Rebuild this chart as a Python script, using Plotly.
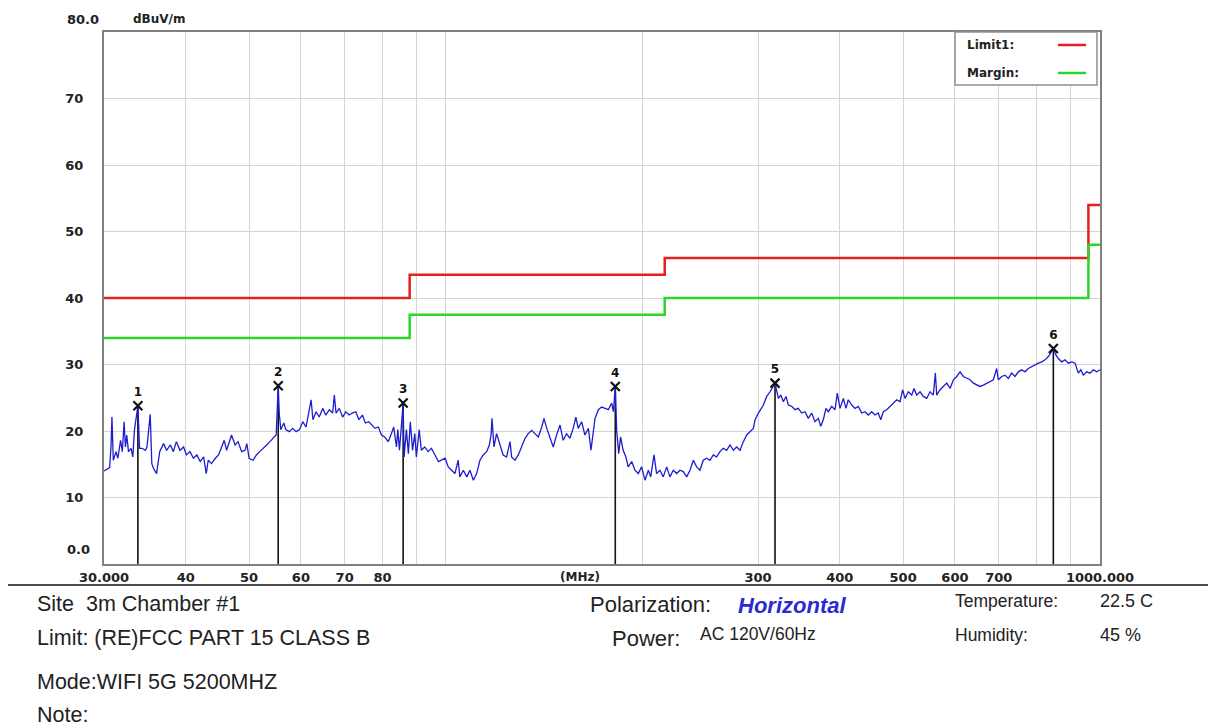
import plotly.graph_objects as go

# ---------------- data ----------------
freq_mhz = [
    30.0, 30.1, 30.6, 30.75, 30.85, 31.0, 31.3, 31.5, 31.8, 32.0, 32.2, 32.35, 32.5, 32.7, 33.0, 33.2, 33.4,
    33.8, 33.9, 34.0, 34.3, 34.7, 34.9, 35.3, 35.5, 35.7, 36.1, 36.5, 37.0, 37.4, 37.9, 38.3, 38.7, 39.2, 39.7,
    40.1, 40.6, 41.1, 41.6, 42.1, 42.6, 43.0, 43.3, 43.8, 44.4, 44.9, 45.4, 45.8, 46.2, 46.7, 47.0, 47.6, 48.1,
    48.7, 49.3, 49.6,
    50.0, 50.7, 51.3, 51.9, 52.6, 53.2, 53.8, 54.5, 55.0, 55.4, 55.6, 55.9, 56.5, 56.9, 57.6, 58.3, 59.0, 59.7,
    60.4, 61.1, 61.6, 62.2, 62.6, 63.3, 64.0, 64.8, 65.5, 66.3, 67.1, 67.5, 67.9, 68.7, 69.5,
    70.3, 71.1, 71.9, 72.8, 73.6, 74.5, 75.3, 76.2, 77.1, 77.9, 78.8, 79.7,
    80.6, 81.6, 82.5, 83.2, 84.0, 84.4, 84.9, 85.5, 86.0, 86.3, 87.0, 87.6, 88.2, 88.9, 89.6,
    90.1, 91.0, 91.7, 92.8, 93.9, 95.0, 96.2, 97.4, 99.7,
    100.8, 102.0, 103.2, 104.4, 105.0, 106.3, 107.6, 108.8, 110.1, 111.4, 112.7, 114.0, 115.4, 116.5, 117.2,
    117.6, 118.4, 119.5,
    120.9, 122.3, 123.8, 125.3, 126.0, 127.5, 129.0, 130.5, 132.1, 133.6, 135.2, 136.8, 138.4,
    140.1, 141.2, 142.6, 144.2, 145.9, 147.6, 149.4, 151.1, 152.9, 154.7, 156.5, 158.0, 159.3,
    161.2, 163.1, 165.1, 166.6, 168.0, 169.0, 171.0, 173.0, 175.1, 177.1, 179.2, 180.3, 181.5, 182.4, 183.7,
    184.9, 186.6, 188.4, 189.9,
    192.3, 194.5, 196.8, 199.1, 201.5, 203.9, 205.6, 208.0, 209.9, 212.4, 214.9, 217.5, 220.0, 222.6, 225.3,
    227.9, 230.6, 233.4, 236.1, 238.9,
    241.7, 244.5, 247.4, 250.4, 253.3, 256.3, 259.3, 262.4, 265.5, 268.6, 271.8, 275.0, 278.3, 281.6, 284.9,
    288.3, 291.7, 295.1, 296.9, 300.4,
    305.7, 309.3, 313.0, 315.9, 318.5, 322.3, 325.0, 328.0, 331.1, 333.8, 337.8, 341.7, 345.7, 349.9, 353.9,
    358.1, 362.4, 366.6, 371.0, 374.1, 377.5,
    381.1, 384.2, 388.8, 393.4, 396.6, 400.4, 405.1, 408.9, 412.2, 417.2, 422.1, 427.0, 432.2, 437.2, 442.3,
    447.6, 452.9, 458.1, 462.1, 466.3,
    471.9, 477.4, 483.1, 488.8, 494.6, 499.2, 503.3, 509.2, 515.4, 519.5, 524.5, 530.7, 536.9, 543.3, 549.7,
    556.1, 560.1, 562.8, 569.4, 576.1,
    583.0, 589.8, 596.8, 603.9, 611.0, 618.0, 625.6, 632.9, 640.3, 648.0, 655.5, 663.2, 671.2, 679.0, 687.0,
    695.0, 699.1,
    707.5, 715.7, 724.2, 732.8, 741.3, 750.1, 759.1, 767.9, 777.0, 786.4, 795.5, 804.9, 814.6, 824.0, 833.7,
    840.7, 848.5, 856.5, 863.5, 873.9,
    884.2, 894.5, 905.3, 915.9, 926.6, 934.5, 943.1, 954.2, 965.4, 976.8, 988.3, 1000.0,
]
level_dbuv = [
    14.0, 14.1, 14.5, 17.6, 22.1, 15.6, 16.9, 15.9, 18.6, 16.9, 21.4, 17.6, 19.4, 16.9, 17.4, 16.1, 20.2,
    23.8, 20.2, 17.4, 17.4, 17.1, 17.6, 22.5, 15.1, 14.4, 13.6, 16.9, 18.1, 17.1, 17.9, 16.9, 18.4, 17.1, 17.6,
    16.4, 16.9, 15.9, 16.4, 15.4, 16.1, 13.6, 15.6, 15.1, 15.9, 16.4, 17.6, 18.6, 17.1, 18.6, 19.4, 17.9, 18.4,
    16.9, 17.1, 18.1,
    15.9, 15.6, 16.4, 16.9, 17.4, 17.9, 18.4, 18.9, 19.4, 26.8, 22.7, 20.2, 21.2, 20.2, 19.9, 20.4, 19.9, 20.2,
    21.4, 20.6, 22.7, 24.7, 21.7, 22.9, 22.1, 23.4, 22.4, 23.2, 22.7, 25.4, 22.7, 23.4, 22.1,
    22.9, 22.4, 22.7, 22.9, 21.7, 22.4, 21.2, 21.4, 20.9, 20.4, 20.6, 19.4,
    19.1, 18.4, 19.6, 20.6, 17.6, 20.2, 17.1, 21.2, 24.2, 16.1, 20.2, 16.6, 21.4, 17.1, 19.6,
    16.1, 20.2, 17.1, 17.6, 16.9, 17.4, 16.4, 15.4, 15.9,
    14.6, 14.1, 13.6, 15.6, 13.1, 14.1, 13.1, 14.1, 12.6, 13.6, 15.6, 16.4, 16.9, 17.9, 19.4,
    21.9, 17.6, 19.6,
    17.9, 16.4, 16.1, 18.4, 16.1, 15.6, 16.4, 17.6, 18.9, 19.6, 20.1, 19.6, 19.1,
    20.6, 21.9, 20.4, 19.1, 17.6, 19.4, 20.9, 18.6, 19.6, 18.9, 20.4, 22.1, 20.4,
    21.4, 19.4, 20.4, 17.1, 19.9, 21.9, 23.2, 23.6, 23.4, 23.2, 24.2, 22.9, 26.7, 20.1, 16.6,
    19.1, 17.1, 16.1, 14.6,
    15.4, 14.1, 13.6, 14.6, 12.6, 14.1, 13.1, 16.4, 13.6, 14.1, 13.1, 14.6, 13.1, 14.1, 13.6,
    14.1, 13.9, 13.1, 14.1, 15.6,
    14.6, 14.1, 15.6, 15.9, 15.6, 16.4, 16.1, 16.9, 17.4, 17.1, 17.9, 17.1, 17.6, 17.1, 18.4,
    19.4, 19.9, 20.4, 21.7, 22.7,
    23.9, 25.2, 25.9, 26.7, 27.2, 24.9, 25.4, 24.4, 25.2, 23.9, 23.7, 23.2, 23.4, 22.7, 22.9,
    21.9, 22.7, 21.4, 21.9, 20.7, 21.7,
    23.4, 22.9, 23.7, 23.2, 25.7, 23.4, 24.9, 23.4, 24.7, 23.9, 23.4, 23.7, 22.7, 22.9, 22.4,
    22.9, 22.4, 22.7, 21.7, 22.9,
    23.2, 23.7, 24.2, 24.7, 24.4, 26.2, 24.9, 25.9, 25.4, 26.4, 25.4, 25.9, 25.2, 24.9, 25.9,
    25.4, 28.7, 25.4, 26.2, 26.7,
    27.2, 26.4, 27.7, 28.2, 28.9, 28.2, 27.9, 27.7, 27.2, 26.9, 26.7, 26.9, 27.2, 27.4, 27.7,
    29.4, 27.7,
    28.2, 28.4, 27.9, 28.7, 28.2, 28.9, 29.2, 28.9, 29.4, 29.7, 29.9, 30.2, 30.4, 30.7, 31.2,
    31.7, 32.4, 31.4, 30.9, 30.4,
    30.7, 30.2, 30.4, 30.2, 28.7, 29.2, 28.4, 28.9, 28.7, 29.2, 28.9, 29.2,
]

limit_freq = [30, 88, 88, 216, 216, 960, 960, 1000]
limit_level = [40, 40, 43.5, 43.5, 46, 46, 54, 54]
margin_level = [34, 34, 37.5, 37.5, 40, 40, 48, 48]

marker_freq = [33.8, 55.4, 86.0, 181.5, 318.5, 848.5]
marker_level = [23.8, 26.8, 24.2, 26.7, 27.2, 32.4]
marker_label = ["1", "2", "3", "4", "5", "6"]

x_grid_vals = [30, 40, 50, 60, 70, 80, 90, 100, 200, 300, 400, 500, 600, 700, 800, 900, 1000]
x_grid_text = ["30.000", "40", "50", "60", "70", "80", "", "", "", "300", "400", "500", "600", "700", "", "", "1000.000"]
y_tick_vals = [10, 20, 30, 40, 50, 60, 70]
y_tick_text = ["10", "20", "30", "40", "50", "60", "70"]

# ---------------- geometry (window pixels; page body has an 8px margin) ----------------
OFF = 8
W, H = 1216 - OFF, 728 - OFF
L, R, T, B = 104, 1100, 32, 564   # plot area in window pixels


def px(x):
    return (x - L) / (R - L)


def py(y):
    return (B - y) / (B - T)


RED = "#e4201e"
GREEN = "#2bd62b"
BLUE = "#1d1dd0"
FONT = "Liberation Sans"
AXFONT = "DejaVu Sans"

fig = go.Figure()

fig.add_trace(go.Scatter(x=limit_freq, y=limit_level, mode="lines",
                         line=dict(color=RED, width=2.5), hoverinfo="skip"))
fig.add_trace(go.Scatter(x=limit_freq, y=margin_level, mode="lines",
                         line=dict(color=GREEN, width=2.5), hoverinfo="skip"))

# marker drop lines
mx, my = [], []
for f, v in zip(marker_freq, marker_level):
    mx += [f, f, None]
    my += [0, v, None]
fig.add_trace(go.Scatter(x=mx, y=my, mode="lines", line=dict(color="#111111", width=1.6),
                         hoverinfo="skip"))

fig.add_trace(go.Scatter(x=freq_mhz, y=level_dbuv, mode="lines",
                         line=dict(color=BLUE, width=1.3)))

fig.add_trace(go.Scatter(x=marker_freq, y=marker_level, mode="markers+text",
                         text=["<b>%s</b>" % t for t in marker_label], textposition="top center",
                         textfont=dict(family=AXFONT, size=12, color="#111111"),
                         marker=dict(symbol="x-thin", size=9, line=dict(color="#111111", width=2.2))))

fig.update_xaxes(type="log", range=[1.4771213, 3.0],
                 tickvals=x_grid_vals, ticktext=["<b>%s</b>" % t if t else "" for t in x_grid_text],
                 tickfont=dict(family=AXFONT, size=13, color="#222222"),
                 showgrid=True, gridcolor="#d4d4d4", gridwidth=1,
                 showline=True, linecolor="#808080", linewidth=2, mirror=True,
                 ticks="", zeroline=False)
fig.update_yaxes(range=[0, 80], tickvals=y_tick_vals,
                 ticktext=["<b>%s</b>" % t for t in y_tick_text],
                 tickfont=dict(family=AXFONT, size=13, color="#222222"),
                 ticklabelstandoff=16,
                 showgrid=True, gridcolor="#d4d4d4", gridwidth=1,
                 showline=True, linecolor="#808080", linewidth=2, mirror=True,
                 ticks="", zeroline=False)

ann = []


def text(x, y, s, size=12, color="#222222", anchor="left", bold=False, family=FONT):
    ann.append(dict(xref="paper", yref="paper", x=px(x), y=py(y), text=("<b>%s</b>" % s) if bold else s,
                    showarrow=False, xanchor=anchor, yanchor="middle",
                    font=dict(family=family, size=size, color=color)))


text(65, 19, "80.0", bold=True, size=13, family=AXFONT)
text(65, 549, "0.0", bold=True, size=13, family=AXFONT)
text(131, 19, "dBuV/m", bold=True, size=12, family=AXFONT)
text(580, 577, "(MHz)", bold=True, anchor="center", size=12, family=AXFONT)

# legend box
text(965, 45, "Limit1:", bold=True, size=12, family=AXFONT)
text(965, 73, "Margin:", bold=True, size=12, family=AXFONT)

# footer
text(35, 604, "Site  3m Chamber #1", size=21.5)
text(35, 638, "Limit: (RE)FCC PART 15 CLASS B", size=21.5)
text(35, 682, "Mode:WIFI 5G 5200MHZ", size=21.5)
text(35, 715, "Note:", size=21.5)
text(588, 604, "Polarization:", size=22)
text(736, 605, "<b><i>Horizontal</i></b>", size=22, color="#2a2ad0")
text(610, 638, "Power:", size=22)
text(698, 634, "AC 120V/60Hz", size=17.5)
text(953, 601, "Temperature:", size=17.5)
text(1098, 601, "22.5 C", size=18)
text(953, 635, "Humidity:", size=17.5)
text(1098, 635, "45 %", size=18)

shapes = [
    dict(type="rect", xref="paper", yref="paper", x0=px(955), x1=px(1097), y0=py(85), y1=py(32),
         line=dict(color="#909090", width=1.5), fillcolor="white", layer="above"),
    dict(type="line", xref="paper", yref="paper", x0=px(1058), x1=px(1086), y0=py(45), y1=py(45),
         line=dict(color=RED, width=2.5)),
    dict(type="line", xref="paper", yref="paper", x0=px(1058), x1=px(1086), y0=py(73), y1=py(73),
         line=dict(color=GREEN, width=2.5)),
    dict(type="line", xref="paper", yref="paper", x0=px(5), x1=px(1214), y0=py(585), y1=py(585),
         line=dict(color="#111111", width=1.5)),
]

fig.update_layout(width=W, height=H,
                  margin=dict(l=L - OFF, r=W - (R - OFF), t=T - OFF, b=H - (B - OFF)),
                  paper_bgcolor="white", plot_bgcolor="white", showlegend=False,
                  annotations=ann, shapes=shapes, font=dict(family=FONT))

fig.write_html("out.html")
